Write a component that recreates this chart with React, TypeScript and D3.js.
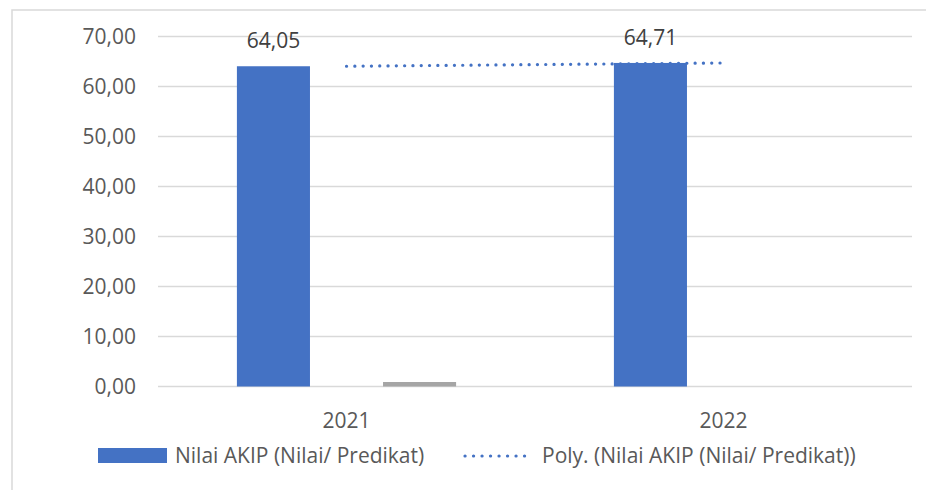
import React from "react";
import * as d3 from "d3";

const categories = ["2021", "2022"];
const seriesKeys = ["nilai", "empty", "gray"];
const nilaiAKIP: (number | null)[] = [64.05, 64.71];
const emptySeries: (number | null)[] = [null, null];
const graySeries: (number | null)[] = [0.9, null];
const yTicks = [0, 10, 20, 30, 40, 50, 60, 70];
const legendLabels = ["Nilai AKIP (Nilai/ Predikat)", "Poly. (Nilai AKIP (Nilai/ Predikat))"];

const W = 926;
const H = 490;
const FONT = "'Open Sans', sans-serif";

export default function App() {
  const left = 158, right = 912, top = 36.5, bottom = 386.5;
  const y = d3.scaleLinear().domain([0, 70]).range([bottom, top]);
  const x0 = d3.scaleBand<string>().domain(categories).range([left, right]).padding(0);
  const x1 = d3.scaleBand<string>().domain(seriesKeys).range([0, x0.bandwidth()]).paddingInner(0).paddingOuter(1.08);
  const seriesData: Record<string, (number | null)[]> = { nilai: nilaiAKIP, empty: emptySeries, gray: graySeries };
  const colors: Record<string, string> = { nilai: "#4472C4", empty: "#ED7D31", gray: "#A5A5A5" };
  const fmt = (v: number) => v.toFixed(2).replace(".", ",");

  // polynomial trendline with two points reduces to a straight line through the blue series
  const pts = categories.map((c, i) => ({ x: i, v: nilaiAKIP[i] as number }));
  const mx = d3.mean(pts, (p) => p.x) as number;
  const my = d3.mean(pts, (p) => p.v) as number;
  const slope = d3.sum(pts, (p) => (p.x - mx) * (p.v - my)) / d3.sum(pts, (p) => (p.x - mx) ** 2);
  const icpt = my - slope * mx;
  const trendPts = pts.map((p) => [ (x0(categories[p.x]) as number) + x0.bandwidth() / 2, y(icpt + slope * p.x) ] as [number, number]);
  const trendLine = d3.line()(trendPts) as string;

  return (
    <svg width={W} height={H} style={{ position: "absolute", left: 0, top: 0, background: "#fff" }} fontFamily={FONT}>
      <rect x={12} y={10} width={W} height={H} fill="#fff" stroke="#d9d9d9" strokeWidth={1.5} />
      {yTicks.map((t) => (
        <g key={t}>
          <line x1={left} x2={right} y1={y(t)} y2={y(t)} stroke="#d9d9d9" strokeWidth={1.5} />
          <text x={136} y={y(t)} dy="0.36em" textAnchor="end" fontSize={21} fill="#595959">{fmt(t)}</text>
        </g>
      ))}
      {categories.map((c, i) => (
        <g key={c}>
          {seriesKeys.map((k) => {
            const v = seriesData[k][i];
            if (v == null) return null;
            const bx = (x0(c) as number) + (x1(k) as number);
            return <rect key={k} x={bx} y={y(v)} width={x1.bandwidth()} height={y(0) - y(v)} fill={colors[k]} />;
          })}
          {nilaiAKIP[i] != null && (
            <text x={(x0(c) as number) + (x1("nilai") as number) + x1.bandwidth() / 2} y={y(nilaiAKIP[i] as number) - 18} textAnchor="middle" fontSize={21} fill="#404040">
              {fmt(nilaiAKIP[i] as number)}
            </text>
          )}
          <text x={(x0(c) as number) + x0.bandwidth() / 2} y={427.5} textAnchor="middle" fontSize={21} fill="#595959">{c}</text>
        </g>
      ))}
      <path d={trendLine} fill="none" stroke="#4472C4" strokeWidth={3.2} strokeLinecap="round" strokeDasharray="0.1 8.2" />
      <g>
        <rect x={98} y={448} width={69} height={15} fill="#4472C4" />
        <text x={175} y={463} fontSize={21} fill="#595959">{legendLabels[0]}</text>
        <line x1={465} x2={532} y1={456} y2={456} stroke="#4472C4" strokeWidth={3.2} strokeLinecap="round" strokeDasharray="0.1 8.4" />
        <text x={542} y={463} fontSize={21} fill="#595959">{legendLabels[1]}</text>
      </g>
    </svg>
  );
}
